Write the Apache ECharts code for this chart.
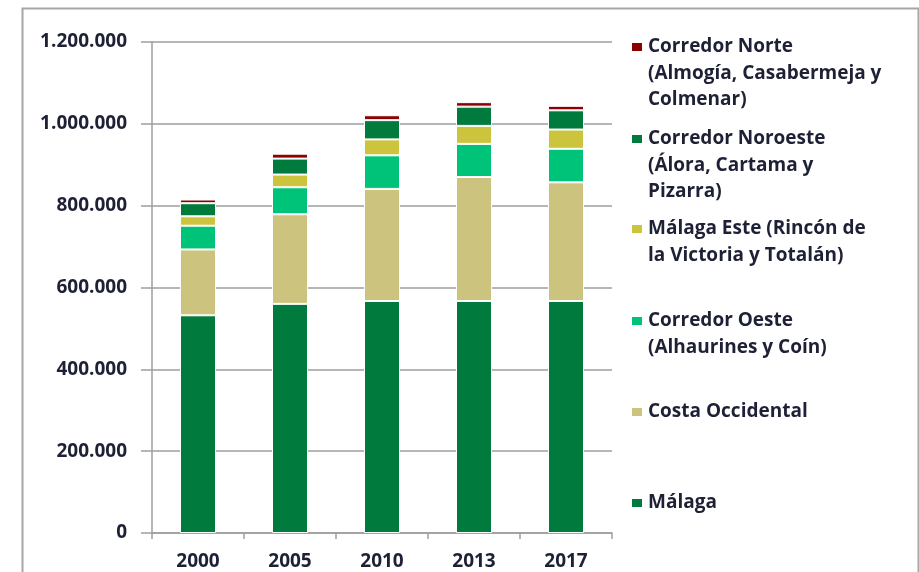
<!DOCTYPE html>
<html>
<head>
<meta charset="utf-8">
<script src="https://cdn.jsdelivr.net/npm/echarts@6/dist/echarts.min.js"></script>
<style>
html,body{margin:0;padding:0;background:#fff;}
#chart{width:919px;height:572px;}
</style>
</head>
<body>
<div id="chart"></div>
<script>
// ---- data ----
const categories = ['2000', '2005', '2010', '2013', '2017'];
const seriesNames = ['Málaga', 'Costa Occidental', 'Corredor Oeste', 'Málaga Este', 'Corredor Noroeste', 'Corredor Norte'];
const legendLabels = [
  'Málaga',
  'Costa Occidental',
  'Corredor Oeste\n(Alhaurines y Coín)',
  'Málaga Este (Rincón de\nla Victoria y Totalán)',
  'Corredor Noroeste\n(Álora, Cartama y\nPizarra)',
  'Corredor Norte\n(Almogía, Casabermeja y\nColmenar)'
];
const malaga = [532000, 560000, 567000, 567000, 567000];
const costaOccidental = [161000, 219000, 274000, 303000, 290000];
const corredorOeste = [58000, 66000, 82000, 81000, 82000];
const malagaEste = [23000, 31000, 39000, 44000, 47000];
const corredorNoroeste = [32000, 39000, 47000, 47000, 47000];
const corredorNorte = [9000, 12000, 12000, 11000, 11000];
const yTicks = [0, 200000, 400000, 600000, 800000, 1000000, 1200000];

const values = [malaga, costaOccidental, corredorOeste, malagaEste, corredorNoroeste, corredorNorte];
const colors = ['#007A3D', '#CCC47E', '#00C37A', '#CDC43E', '#007A3D', '#8B0000'];

const FONT = '"Open Sans", sans-serif';
const TXT = '#1e2135';
const LH = 26.5;
// first-line centre of each legend entry (Norte at top ... Málaga at bottom)
const legendFirstLine = [503, 412, 321, 229, 139, 47];

const legends = seriesNames.map((name, i) => {
  const n = legendLabels[i].split('\n').length;
  // blank lines above keep the icon level with the first text line
  const shown = '\n'.repeat(n - 1) + legendLabels[i];
  return {
    data: [name],
    orient: 'vertical',
    left: 630,
    top: legendFirstLine[i] - (n - 0.5) * LH,
    padding: 0,
    icon: 'rect',
    itemWidth: 12,
    itemHeight: 10,
    selectedMode: false,
    formatter: () => shown,
    textStyle: {
      fontFamily: FONT, fontSize: 19, fontWeight: 'bold', color: TXT,
      lineHeight: LH
    }
  };
});

const fmt = v => String(v).replace(/\B(?=(\d{3})+(?!\d))/g, '.');

const chart = echarts.init(document.getElementById('chart'), null, { renderer: 'canvas' });
chart.setOption({
  animation: false,
  backgroundColor: '#ffffff',
  graphic: [{
    type: 'rect', left: 20, top: 6, silent: true,
    shape: { width: 896, height: 620 },
    style: { fill: 'none', stroke: '#a6a6a6', lineWidth: 2 }
  }],
  grid: { left: 152, right: 307, top: 42, bottom: 39, containLabel: false },
  legend: legends,
  xAxis: {
    type: 'category',
    data: categories,
    boundaryGap: true,
    axisLine: { show: true, lineStyle: { color: '#9e9e9e', width: 1.5 } },
    axisTick: { show: true, length: 6, lineStyle: { color: '#9e9e9e', width: 1.5 } },
    axisLabel: { margin: 19, fontFamily: FONT, fontSize: 19, fontWeight: 'bold', color: TXT }
  },
  yAxis: {
    type: 'value',
    min: yTicks[0],
    max: yTicks[yTicks.length - 1],
    interval: yTicks[1] - yTicks[0],
    axisLine: { show: true, lineStyle: { color: '#9e9e9e', width: 1.5 } },
    axisTick: { show: true, length: 11, lineStyle: { color: '#9e9e9e', width: 1.5 } },
    splitLine: { show: true, lineStyle: { color: '#9e9e9e', width: 1.5 } },
    axisLabel: { margin: 25, fontFamily: FONT, fontSize: 19, fontWeight: 'bold', color: TXT, formatter: fmt }
  },
  series: seriesNames.map((name, i) => ({
    name: name,
    type: 'bar',
    stack: 'total',
    barWidth: 36,
    data: values[i],
    itemStyle: { color: colors[i], borderColor: '#ffffff', borderWidth: 1 }
  }))
});
</script>
</body>
</html>
